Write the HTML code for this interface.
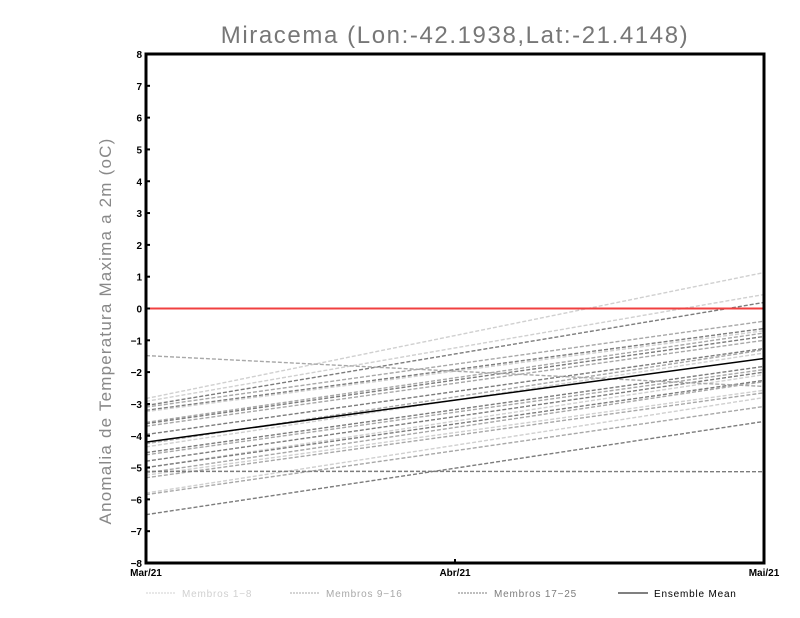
<!DOCTYPE html>
<html><head><meta charset="utf-8"><style>
body{margin:0;background:#fff;}
svg{display:block;font-family:"Liberation Sans",sans-serif;}
</style></head><body>
<svg id="chart" width="800" height="618">
<text x="455" y="43" text-anchor="middle" font-size="24" letter-spacing="1.6" fill="#777">Miracema (Lon:-42.1938,Lat:-21.4148)</text>
<text transform="translate(111,331) rotate(-90)" text-anchor="middle" font-size="17" letter-spacing="1.2" fill="#888">Anomalia de Temperatura Maxima a 2m (oC)</text>
<g id="plot"></g>
</svg>
<script>
const categories = ["Mar/21","Abr/21","Mai/21"];
const yTicks = [-8,-7,-6,-5,-4,-3,-2,-1,0,1,2,3,4,5,6,7,8];
const memberMar = [-2.83,-2.92,-3.05,-3.1,-3.2,-3.24,-3.58,-3.62,-3.7,-3.96,-4.25,-4.35,-4.53,-4.6,-4.8,-5.0,-5.0,-5.17,-5.24,-5.32,-5.8,-5.85,-6.48,-5.12,-1.48];
const memberAbr = [-0.85,-1.24,-1.43,-1.75,-1.92,-1.97,-2.18,-2.25,-2.35,-2.61,-2.78,-2.88,-3.18,-3.26,-3.4,-3.54,-3.63,-3.74,-3.9,-3.99,-4.3,-4.47,-5.02,-5.12,-1.97];
const memberMai = [1.13,0.44,0.19,-0.4,-0.63,-0.7,-0.77,-0.88,-1.0,-1.26,-1.3,-1.4,-1.82,-1.92,-2.0,-2.08,-2.26,-2.3,-2.57,-2.65,-2.8,-3.08,-3.55,-5.13,-2.45];
const memberGroup = [0,0,2,1,2,0,1,2,1,2,1,0,2,1,2,0,2,1,0,1,0,1,2,2,1];
const ensembleMean = [-4.2,-2.88,-1.57];
const groupColors = ["#d0d0d0","#a8a8a8","#7c7c7c"];

const NS="http://www.w3.org/2000/svg";
const g=document.getElementById('plot');
const X0=146,X1=764,Y0=563,Y1=54;
const xs=i=>X0+(X1-X0)*i/(categories.length-1);
const ys=v=>Y0-(v-(-8))*(Y0-Y1)/16;
function mk(t,a){const e=document.createElementNS(NS,t);for(const k in a)e.setAttribute(k,a[k]);g.appendChild(e);return e;}

for(let i=0;i<memberMar.length;i++){
  const vals=[memberMar[i],memberAbr[i],memberMai[i]];
  const l=mk('polyline',{points:vals.map((v,j)=>xs(j)+','+ys(v)).join(' '),fill:'none',stroke:groupColors[memberGroup[i]],'stroke-width':1.4,'stroke-dasharray':'4,2'});
  
  
}
const zl=mk('line',{x1:X0,x2:X1,y1:ys(0),y2:ys(0),stroke:'#f04040','stroke-width':2});


const ml=mk('polyline',{points:ensembleMean.map((v,j)=>xs(j)+','+ys(v)).join(' '),fill:'none',stroke:'#000','stroke-width':1.5});



const fr=mk('rect',{x:X0,y:Y1,width:X1-X0,height:Y0-Y1,fill:'none',stroke:'#000','stroke-width':3});



yTicks.forEach(v=>{
  const t=mk('line',{x1:X0,x2:X0+4,y1:ys(v),y2:ys(v),stroke:'#000','stroke-width':2});
  
  
  const tx=mk('text',{x:X0-4,y:ys(v)+4,'text-anchor':'end','font-size':10,'font-weight':'bold'});
  tx.textContent=String(v).replace('-','\u2212');
  
  
});
categories.forEach((c,i)=>{
  const t=mk('line',{x1:xs(i),x2:xs(i),y1:Y0,y2:Y0-4,stroke:'#000','stroke-width':2});
  
  
  const tx=mk('text',{x:xs(i),y:Y0+13,'text-anchor':'middle','font-size':10,'font-weight':'bold'});
  tx.textContent=c;
  
  
});

const legendLabels=["Membros 1\u22128","Membros 9\u221216","Membros 17\u221225","Ensemble Mean"];
const legendColors=["#d0d0d0","#a8a8a8","#7c7c7c","#000"];
const legendX=[146,290,458,618];
legendLabels.forEach((lab,i)=>{
  const l=mk('line',{x1:legendX[i],x2:legendX[i]+30,y1:593,y2:593,stroke:legendColors[i],'stroke-width':1,'stroke-dasharray':i<3?'2,1':'none'});
  
  
  const t=mk('text',{x:legendX[i]+36,y:597,'font-size':10,'letter-spacing':0.8,fill:i<3?legendColors[i]:'#000'});
  t.textContent=lab;
  
  
});
</script>
</body></html>
